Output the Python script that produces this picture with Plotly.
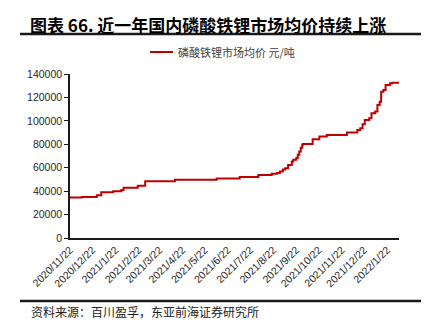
import plotly.graph_objects as go

# 磷酸铁锂市场均价（元/吨），按价格变动日记录
dates = [
    "2020-11-22", "2020-12-08", "2020-12-28", "2021-01-03", "2021-01-19",
    "2021-01-30", "2021-02-02", "2021-02-21", "2021-03-03", "2021-04-12",
    "2021-06-07", "2021-07-08", "2021-08-02", "2021-08-20", "2021-08-27",
    "2021-08-31", "2021-09-04", "2021-09-07", "2021-09-11", "2021-09-16",
    "2021-09-18", "2021-09-22", "2021-09-24", "2021-09-26", "2021-09-28",
    "2021-09-30", "2021-10-01", "2021-10-14", "2021-10-23", "2021-11-02",
    "2021-11-29", "2021-12-13", "2021-12-17", "2021-12-20", "2021-12-23",
    "2021-12-29", "2022-01-01", "2022-01-06", "2022-01-09", "2022-01-12",
    "2022-01-14", "2022-01-17", "2022-01-20", "2022-01-26", "2022-01-29",
    "2022-02-07",
]
prices = [
    34500, 35000, 36500, 39000, 40000,
    41000, 43000, 44600, 48400, 49700,
    50800, 52000, 53700, 54800, 55400,
    56700, 58500, 59600, 62400, 65300,
    66700, 68200, 71000, 73800, 77000,
    79500, 80300, 84300, 86600, 88000,
    90000, 92300, 93700, 97000, 100800,
    102200, 106500, 107900, 113600, 116400,
    124900, 126300, 130600, 132000, 132600,
    132600,
]

tick_dates = [
    "2020-11-22", "2020-12-22", "2021-01-22", "2021-02-22", "2021-03-22",
    "2021-04-22", "2021-05-22", "2021-06-22", "2021-07-22", "2021-08-22",
    "2021-09-22", "2021-10-22", "2021-11-22", "2021-12-22", "2022-01-22",
]
tick_labels = [
    "2020/11/22", "2020/12/22", "2021/1/22", "2021/2/22", "2021/3/22",
    "2021/4/22", "2021/5/22", "2021/6/22", "2021/7/22", "2021/8/22",
    "2021/9/22", "2021/10/22", "2021/11/22", "2021/12/22", "2022/1/22",
]
y_ticks = [0, 20000, 40000, 60000, 80000, 100000, 120000, 140000]
y_labels = [str(v) for v in y_ticks]

title_text = "图表 66. 近一年国内磷酸铁锂市场均价持续上涨"
legend_text = "磷酸铁锂市场均价 元/吨"
source_text = "资料来源：百川盈孚，东亚前海证券研究所"

W, H = 430, 326
L, R, T, B = 70, 31, 74, 88
PW, PH = W - L - R, H - T - B
RED = "#C00000"


def px_x(px):
    return (px - L) / PW


def px_y(py):
    return (H - B - py) / PH


fig = go.Figure()
fig.add_trace(go.Scatter(
    x=dates, y=prices, mode="lines", line_shape="hv",
    line=dict(color=RED, width=2), showlegend=False, hoverinfo="skip",
))

fig.update_layout(
    width=W, height=H,
    margin=dict(l=L, r=R, t=T, b=B),
    paper_bgcolor="white", plot_bgcolor="white",
    font=dict(family="Liberation Sans, Arial, sans-serif", size=10, color="#262626"),
    xaxis=dict(
        type="date", range=["2020-11-22", "2022-02-07"],
        tickmode="array", tickvals=tick_dates, ticktext=tick_labels,
        tickangle=-45, ticks="", showgrid=False, zeroline=False,
        showline=True, linecolor="#1a1a1a", linewidth=1.5,
        tickfont=dict(size=10.5, color="#262626"),
    ),
    yaxis=dict(
        range=[0, 140000], tickmode="array", tickvals=y_ticks, ticktext=y_labels,
        ticks="outside", ticklen=4, tickwidth=1.2, tickcolor="#1a1a1a",
        showgrid=False, zeroline=False,
        showline=True, linecolor="#1a1a1a", linewidth=1.5,
        tickfont=dict(size=10.5, color="#262626"),
    ),
)

# title and rules
fig.add_annotation(
    xref="paper", yref="paper", x=px_x(28), y=px_y(24.5),
    xanchor="left", yanchor="middle", showarrow=False,
    text="<b>" + title_text + "</b>",
    font=dict(family="Noto Sans CJK SC", size=17, color="#000000"),
)
for py in (34, 301):
    fig.add_shape(
        type="line", xref="paper", yref="paper",
        x0=px_x(20), x1=px_x(421), y0=px_y(py), y1=px_y(py),
        line=dict(color="#1a1a1a", width=2.5),
    )

# legend
fig.add_shape(
    type="line", xref="paper", yref="paper",
    x0=px_x(150), x1=px_x(173), y0=px_y(52), y1=px_y(52),
    line=dict(color=RED, width=2),
)
fig.add_annotation(
    xref="paper", yref="paper", x=px_x(176), y=px_y(52),
    xanchor="left", yanchor="middle", showarrow=False,
    text=legend_text,
    font=dict(family="Noto Sans CJK SC", size=11, color="#404040"),
)

# source note
fig.add_annotation(
    xref="paper", yref="paper", x=px_x(29), y=px_y(311),
    xanchor="left", yanchor="middle", showarrow=False,
    text=source_text,
    font=dict(family="Noto Sans CJK SC", size=12, color="#222222"),
)

fig.write_html("out.html")
